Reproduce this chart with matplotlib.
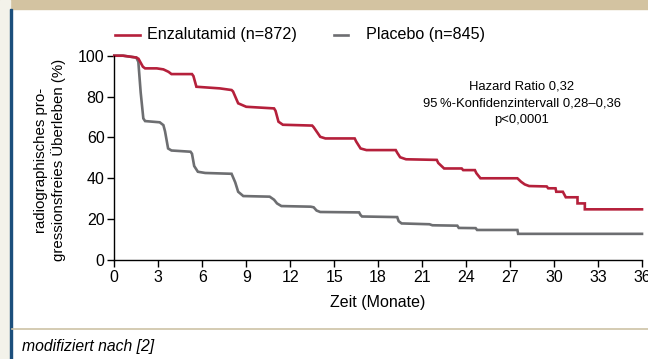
import matplotlib
matplotlib.use("Agg")
import matplotlib.pyplot as plt
from matplotlib.patches import Rectangle
from matplotlib.lines import Line2D

plt.rcParams["font.family"] = ["Liberation Sans", "DejaVu Sans"]

# Kaplan-Meier Kurven (Monate, %)
enza_t = [0, 0.6, 1.5, 1.65, 1.95, 2.1, 2.9, 3.35, 3.7, 3.9, 5.3, 5.4, 5.6, 7.2, 8.0, 8.1,
          8.45, 9.0, 10.9, 11.0, 11.2, 11.5, 13.5, 13.6, 14.05, 14.4, 16.4, 16.5, 16.8, 17.2,
          19.2, 19.3, 19.5, 19.9, 22.0, 22.1, 22.5, 23.7, 23.8, 24.6, 24.7, 24.98, 27.5,
          27.75, 28.0, 28.3, 29.5, 29.6, 30.1, 30.15, 30.6, 30.8, 31.6, 31.6, 32.1, 32.1, 36]
enza_v = [100, 100, 99.1, 98.5, 94.6, 93.8, 93.8, 93.3, 92.1, 91.0, 91.0, 90, 84.8, 84.0, 83.2, 82.5,
          76.7, 75.0, 74.2, 73, 67.7, 66.2, 65.8, 65, 60.3, 59.5, 59.5, 58, 54.6, 53.8,
          53.8, 52.5, 50.3, 49.3, 49.0, 47.5, 44.8, 44.8, 44.0, 44.0, 42.5, 40.0, 40.0,
          38.3, 37.0, 36.2, 36.0, 35.1, 35.1, 33.4, 33.4, 30.7, 30.7, 27.7, 27.7, 24.8, 24.8]

plac_t = [0, 0.6, 1.5, 1.64, 1.8, 1.98, 2.1, 3.1, 3.35, 3.46, 3.67, 3.9, 5.2, 5.3, 5.45, 5.7,
          6.2, 8.0, 8.25, 8.45, 8.8, 10.6, 10.9, 11.1, 11.4, 13.4, 13.6, 13.8, 14.05, 16.7,
          16.8, 16.9, 19.3, 19.4, 19.6, 21.5, 21.7, 23.4, 23.5, 24.65, 24.75, 27.5, 27.55, 36]
plac_v = [100, 100, 99.1, 97, 82, 69.3, 68, 67.4, 66, 63, 54.6, 53.6, 53.0, 52.0, 46, 43.2,
          42.6, 42.2, 38, 33.4, 31.3, 31.0, 29.5, 27.7, 26.4, 26.1, 25.8, 24.2, 23.5, 23.3,
          22.0, 21.3, 21.0, 19.0, 17.9, 17.5, 17.0, 16.8, 15.7, 15.6, 14.7, 14.7, 12.8, 12.8]

x_ticks = list(range(0, 37, 3))
y_ticks = [0, 20, 40, 60, 80, 100]

red = "#b5203b"
grey = "#6d6e71"
W, H = 648, 359

fig = plt.figure(figsize=(6.48, 3.59), dpi=100)

# Rahmen des Kastens
fig.patches.append(Rectangle((0, 1 - 8.7 / H), 1, 8.7 / H, transform=fig.transFigure,
                             color="#d3c3a1", zorder=0))
fig.patches.append(Rectangle((0, 0), 10 / W, 1, transform=fig.transFigure,
                             color="#f3f2ea", zorder=0))
fig.patches.append(Rectangle((10 / W, 0), 1.8 / W, 1 - 8.7 / H, transform=fig.transFigure,
                             color="#1c4f7c", zorder=1))
fig.lines.append(Line2D([11.8 / W, 1], [1 - 328.5 / H] * 2, transform=fig.transFigure,
                        color="#cdc2a6", lw=1.2))

ax = fig.add_axes([114.3 / W, 1 - 260 / H, (642 - 114.3) / W, (260 - 55.7) / H])
ax.plot(plac_t, plac_v, color=grey, lw=1.9, solid_joinstyle="miter", clip_on=False)
ax.plot(enza_t, enza_v, color=red, lw=1.9, solid_joinstyle="miter", clip_on=False)

ax.set_xlim(0, 36)
ax.set_ylim(0, 100)
ax.set_xticks(x_ticks)
ax.set_yticks(y_ticks)
ax.tick_params(labelsize=11.5, length=5, width=1, pad=2)
for s in ["top", "right"]:
    ax.spines[s].set_visible(False)
for s in ["left", "bottom"]:
    ax.spines[s].set_linewidth(1)
ax.patch.set_alpha(0)

fig.text(50 / W, 1 - 160 / H, "radiographisches pro-\ngressionsfreies Überleben (%)",
         rotation=90, ha="center", va="center", fontsize=10.8, linespacing=1.3)
fig.text(378 / W, 1 - 302 / H, "Zeit (Monate)", ha="center", va="center", fontsize=11.5)

# Legende
fig.lines.append(Line2D([115 / W, 140 / W], [1 - 34.5 / H] * 2, transform=fig.transFigure,
                        color=red, lw=1.9))
fig.text(147 / W, 1 - 34.5 / H, "Enzalutamid (n=872)", ha="left", va="center", fontsize=11.6)
fig.lines.append(Line2D([334 / W, 348 / W], [1 - 34.5 / H] * 2, transform=fig.transFigure,
                        color=grey, lw=1.9))
fig.text(366 / W, 1 - 34.5 / H, "Placebo (n=845)", ha="left", va="center", fontsize=11.6)

fig.text(521.7 / W, 1 - 103 / H,
         "Hazard Ratio 0,32\n95\u2009%-Konfidenzintervall 0,28\u20130,36\np<0,0001",
         ha="center", va="center", fontsize=9.4, linespacing=1.5)

fig.text(22 / W, 1 - 346 / H, "modifiziert nach [2]", ha="left", va="center",
         fontsize=11.3, style="italic")

fig.savefig("out.png", dpi=100)
